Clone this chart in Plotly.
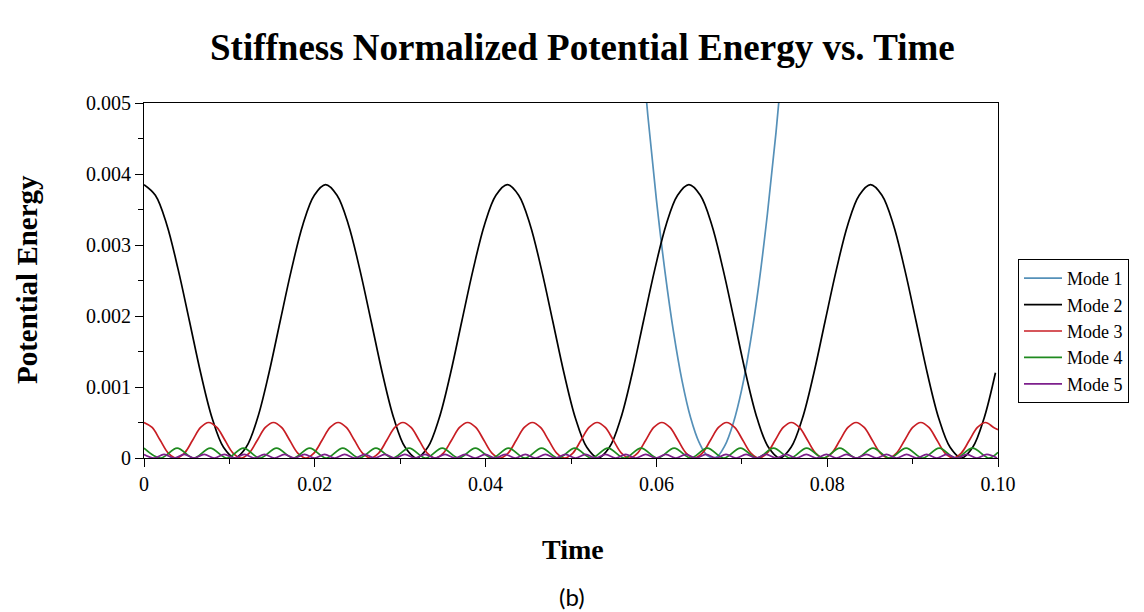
import plotly.graph_objects as go

# ---------------- data ----------------
# Mode 1 (only the part that dips into the visible window)
t_mode1 = [0.057, 0.058, 0.059, 0.060, 0.061, 0.062, 0.063, 0.064, 0.065, 0.066,
           0.067, 0.068, 0.069, 0.070, 0.071, 0.072, 0.073, 0.074, 0.075, 0.076]
e_mode1 = [0.00765, 0.00615, 0.00482, 0.00364, 0.00263, 0.00178, 0.00109, 0.00057, 0.00022, 0.00003,
           0.00001, 0.00017, 0.00049, 0.00097, 0.00163, 0.00245, 0.00344, 0.00458, 0.00588, 0.00734]

# Mode 2
t_mode2 = [0, 0.00133, 0.00266, 0.00399, 0.00532, 0.00665, 0.00798, 0.00931,
           0.01064, 0.01196, 0.01329, 0.01462, 0.01595, 0.01728, 0.01861, 0.01994,
           0.02127, 0.0226, 0.02393, 0.02526, 0.02659, 0.02792, 0.02925, 0.03058,
           0.03191, 0.03323, 0.03456, 0.03589, 0.03722, 0.03855, 0.03988, 0.04121,
           0.04254, 0.04387, 0.0452, 0.04653, 0.04786, 0.04919, 0.05052, 0.05185,
           0.05318, 0.0545, 0.05583, 0.05716, 0.05849, 0.05982, 0.06115, 0.06248,
           0.06381, 0.06514, 0.06647, 0.0678, 0.06913, 0.07046, 0.07179, 0.07312,
           0.07445, 0.07577, 0.0771, 0.07843, 0.07976, 0.08109, 0.08242, 0.08375,
           0.08508, 0.08641, 0.08774, 0.08907, 0.0904, 0.09173, 0.09306, 0.09439,
           0.09572, 0.09704, 0.09837, 0.0997]
e_mode2 = [0.00385, 0.0037, 0.00329, 0.00266, 0.00193, 0.00119, 0.00056, 0.00015,
           0.0, 0.00015, 0.00056, 0.00119, 0.00193, 0.00266, 0.00329, 0.0037,
           0.00385, 0.0037, 0.00329, 0.00266, 0.00193, 0.00119, 0.00056, 0.00015,
           0.0, 0.00015, 0.00056, 0.00119, 0.00193, 0.00266, 0.00329, 0.0037,
           0.00385, 0.0037, 0.00329, 0.00266, 0.00193, 0.00119, 0.00056, 0.00015,
           0.0, 0.00015, 0.00056, 0.00119, 0.00193, 0.00266, 0.00329, 0.0037,
           0.00385, 0.0037, 0.00329, 0.00266, 0.00193, 0.00119, 0.00056, 0.00015,
           0.0, 0.00015, 0.00056, 0.00119, 0.00193, 0.00266, 0.00329, 0.0037,
           0.00385, 0.0037, 0.00329, 0.00266, 0.00193, 0.00119, 0.00056, 0.00015,
           0.0, 0.00015, 0.00056, 0.0012]

# Mode 3
t_mode3 = [0, .00095, .00190, .00284, .00379, .00474, .00569, .00663,
           .00758, .00853, .00948, .01042, .01137, .01232, .01327, .01421,
           .01516, .01611, .01706, .01800, .01895, .01990, .02085, .02179,
           .02274, .02369, .02464, .02558, .02653, .02748, .02843, .02937,
           .03032, .03127, .03222, .03316, .03411, .03506, .03601, .03695,
           .03790, .03885, .03980, .04074, .04169, .04264, .04359, .04453,
           .04548, .04643, .04738, .04832, .04927, .05022, .05117, .05211,
           .05306, .05401, .05496, .05590, .05685, .05780, .05875, .05969,
           .06064, .06159, .06254, .06348, .06443, .06538, .06633, .06727,
           .06822, .06917, .07012, .07106, .07201, .07296, .07391, .07485,
           .07580, .07675, .07770, .07864, .07959, .08054, .08149, .08243,
           .08338, .08433, .08528, .08622, .08717, .08812, .08907, .09001,
           .09096, .09191, .09286, .09380, .09475, .09570, .09665, .09759,
           .09854, .09949, 0.1]
e_mode3 = [0.0005, 0.00043, 0.00025, 0.00007, 0.0, 0.00007, 0.00025, 0.00043,
           0.0005, 0.00043, 0.00025, 0.00007, 0.0, 0.00007, 0.00025, 0.00043,
           0.0005, 0.00043, 0.00025, 0.00007, 0.0, 0.00007, 0.00025, 0.00043,
           0.0005, 0.00043, 0.00025, 0.00007, 0.0, 0.00007, 0.00025, 0.00043,
           0.0005, 0.00043, 0.00025, 0.00007, 0.0, 0.00007, 0.00025, 0.00043,
           0.0005, 0.00043, 0.00025, 0.00007, 0.0, 0.00007, 0.00025, 0.00043,
           0.0005, 0.00043, 0.00025, 0.00007, 0.0, 0.00007, 0.00025, 0.00043,
           0.0005, 0.00043, 0.00025, 0.00007, 0.0, 0.00007, 0.00025, 0.00043,
           0.0005, 0.00043, 0.00025, 0.00007, 0.0, 0.00007, 0.00025, 0.00043,
           0.0005, 0.00043, 0.00025, 0.00007, 0.0, 0.00007, 0.00025, 0.00043,
           0.0005, 0.00043, 0.00025, 0.00007, 0.0, 0.00007, 0.00025, 0.00043,
           0.0005, 0.00043, 0.00025, 0.00007, 0.0, 0.00007, 0.00025, 0.00043,
           0.0005, 0.00043, 0.00025, 0.00007, 0.0, 0.00007, 0.00025, 0.00043,
           0.0005, 0.00043, 0.0004]

# Mode 4
t_mode4 = [0, .00194, .00388, .00582, .00776, .0097, .01164, .01358, .01552, .01746,
           .0194, .02134, .02328, .02522, .02716, .0291, .03104, .03298, .03492, .03686,
           .0388, .04074, .04268, .04462, .04656, .0485, .05044, .05238, .05432, .05626,
           .0582, .06014, .06208, .06402, .06596, .0679, .06984, .07178, .07372, .07566,
           .0776, .07954, .08148, .08342, .08536, .0873, .08924, .09118, .09312, .09506,
           .097, .09894, 0.1]
e_mode4 = [0.00014, 0.0, 0.00014, 0.0, 0.00014, 0.0, 0.00014, 0.0, 0.00014, 0.0,
           0.00014, 0.0, 0.00014, 0.0, 0.00014, 0.0, 0.00014, 0.0, 0.00014, 0.0,
           0.00014, 0.0, 0.00014, 0.0, 0.00014, 0.0, 0.00014, 0.0, 0.00014, 0.0,
           0.00014, 0.0, 0.00014, 0.0, 0.00014, 0.0, 0.00014, 0.0, 0.00014, 0.0,
           0.00014, 0.0, 0.00014, 0.0, 0.00014, 0.0, 0.00014, 0.0, 0.00014, 0.0,
           0.00014, 0.0, 0.00008]

# Mode 5
t_mode5 = [0, .001175, .00235, .003525, .0047, .005875, .00705, .008225, .0094, .010575,
           .01175, .012925, .0141, .015275, .01645, .017625, .0188, .019975, .02115, .022325,
           .0235, .024675, .02585, .027025, .0282, .029375, .03055, .031725, .0329, .034075,
           .03525, .036425, .0376, .038775, .03995, .041125, .0423, .043475, .04465, .045825,
           .047, .048175, .04935, .050525, .0517, .052875, .05405, .055225, .0564, .057575,
           .05875, .059925, .0611, .062275, .06345, .064625, .0658, .066975, .06815, .069325,
           .0705, .071675, .07285, .074025, .0752, .076375, .07755, .078725, .0799, .081075,
           .08225, .083425, .0846, .085775, .08695, .088125, .0893, .090475, .09165, .092825,
           .094, .095175, .09635, .097525, .0987, .099875]
e_mode5 = [0.00005, 0.0, 0.00005, 0.0, 0.00005, 0.0, 0.00005, 0.0, 0.00005, 0.0,
           0.00005, 0.0, 0.00005, 0.0, 0.00005, 0.0, 0.00005, 0.0, 0.00005, 0.0,
           0.00005, 0.0, 0.00005, 0.0, 0.00005, 0.0, 0.00005, 0.0, 0.00005, 0.0,
           0.00005, 0.0, 0.00005, 0.0, 0.00005, 0.0, 0.00005, 0.0, 0.00005, 0.0,
           0.00005, 0.0, 0.00005, 0.0, 0.00005, 0.0, 0.00005, 0.0, 0.00005, 0.0,
           0.00005, 0.0, 0.00005, 0.0, 0.00005, 0.0, 0.00005, 0.0, 0.00005, 0.0,
           0.00005, 0.0, 0.00005, 0.0, 0.00005, 0.0, 0.00005, 0.0, 0.00005, 0.0,
           0.00005, 0.0, 0.00005, 0.0, 0.00005, 0.0, 0.00005, 0.0, 0.00005, 0.0,
           0.00005, 0.0, 0.00005, 0.0, 0.00005, 0.0]

mode_names = ["Mode 1", "Mode 2", "Mode 3", "Mode 4", "Mode 5"]
mode_colors = ["#5590b8", "#000000", "#c81e24", "#1f8a1f", "#7d1f8c"]

x_tickvals = [0, 0.02, 0.04, 0.06, 0.08, 0.1]
x_ticktext = ["0", "0.02", "0.04", "0.06", "0.08", "0.10"]
y_tickvals = [0, 0.001, 0.002, 0.003, 0.004, 0.005]
y_ticktext = ["0", "0.001", "0.002", "0.003", "0.004", "0.005"]

title_text = "Stiffness Normalized Potential Energy vs. Time"
xlabel_text = "Time"
ylabel_text = "Potential Energy"
sub_text = "(b)"

# ---------------- figure ----------------
SERIF = "Liberation Serif, Times New Roman, serif"
W, H = 1144, 612
L, R, T, B = 144, 998, 103, 458   # plot-area pixel box

def px(xp):
    return (xp - L) / (R - L)

def py(yp):
    return (B - yp) / (B - T)

fig = go.Figure()
series = [(t_mode1, e_mode1), (t_mode2, e_mode2), (t_mode3, e_mode3),
          (t_mode4, e_mode4), (t_mode5, e_mode5)]
for (tt, ee), name, col in zip(series, mode_names, mode_colors):
    fig.add_trace(go.Scatter(x=tt, y=ee, mode="lines", name=name,
                             line=dict(color=col, width=1.7, shape="spline")))

axis_common = dict(showline=True, linecolor="black", linewidth=1, mirror=True,
                   showgrid=False, zeroline=False, ticks="outside",
                   tickcolor="black", tickwidth=1, ticklen=8,
                   tickfont=dict(family=SERIF, size=20, color="black"))

fig.update_xaxes(range=[0, 0.1], tickvals=x_tickvals, ticktext=x_ticktext,
                 minor=dict(ticks="outside", dtick=0.01, tick0=0, ticklen=5,
                            tickcolor="black", showgrid=False),
                 **axis_common)
fig.update_yaxes(range=[0, 0.005], tickvals=y_tickvals, ticktext=y_ticktext,
                 minor=dict(ticks="outside", dtick=0.0005, tick0=0, ticklen=5,
                            tickcolor="black", showgrid=False),
                 **axis_common)

fig.update_layout(
    width=W, height=H,
    margin=dict(l=L, r=W - R, t=T, b=H - B, autoexpand=False),
    paper_bgcolor="white", plot_bgcolor="white",
    showlegend=True,
    legend=dict(x=px(1018), y=py(259), xanchor="left", yanchor="top",
                bgcolor="white", bordercolor="black", borderwidth=1,
                font=dict(family=SERIF, size=18, color="black"),
                itemwidth=38, tracegroupgap=0),
    annotations=[
        dict(text=f"<b>{title_text}</b>", x=px(582), y=py(48), xref="paper", yref="paper",
             showarrow=False, xanchor="center", yanchor="middle",
             font=dict(family=SERIF, size=37, color="black")),
        dict(text=f"<b>{ylabel_text}</b>", x=px(27), y=py(279), xref="paper", yref="paper",
             showarrow=False, xanchor="center", yanchor="middle", textangle=-90,
             font=dict(family=SERIF, size=29, color="black")),
        dict(text=f"<b>{xlabel_text}</b>", x=px(573), y=py(549), xref="paper", yref="paper",
             showarrow=False, xanchor="center", yanchor="middle",
             font=dict(family=SERIF, size=28, color="black")),
        dict(text=sub_text, x=px(572), y=py(596), xref="paper", yref="paper",
             showarrow=False, xanchor="center", yanchor="middle",
             font=dict(family="Lato, Open Sans, sans-serif", size=24, color="black")),
    ],
)

fig.write_html("out.html")
